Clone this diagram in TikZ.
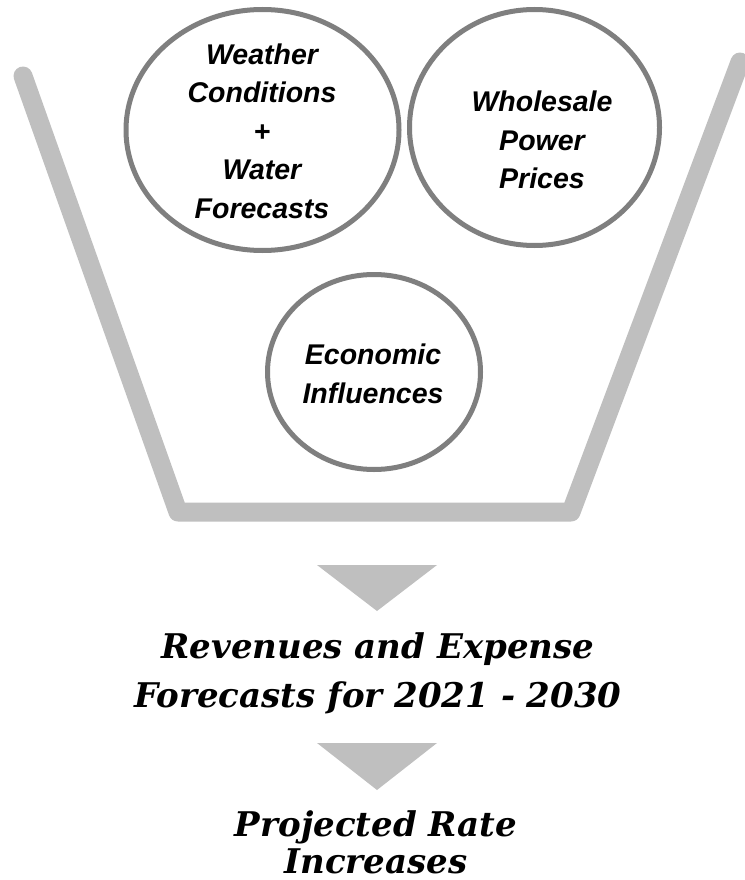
\documentclass[tikz,border=0pt]{standalone}
\usepackage{fontspec}
\usetikzlibrary{shapes.geometric}
\newfontfamily\bubblefont{Liberation Sans}
\newfontfamily\headfont{DejaVu Serif}
\definecolor{funnelgray}{HTML}{BFBFBF}
\definecolor{ringgray}{HTML}{7F7F7F}
\begin{document}
\begin{tikzpicture}[x=1pt,y=-1pt,
  ring/.style={ellipse, draw=ringgray, line width=5pt, fill=white, inner sep=0pt},
  ringtext/.style={font=\bubblefont\bfseries\itshape\fontsize{28.5}{38.5}\selectfont,
    align=center, inner sep=0pt},
  headtext/.style={font=\headfont\bfseries\itshape\fontsize{34}{49}\selectfont,
    align=center, inner sep=0pt, anchor=base},
  pointer/.style={fill=funnelgray}]
\useasboundingbox (0,0) rectangle (744,880);

% funnel outline
\draw[funnelgray, line width=19pt, line cap=round, line join=round]
  (23,76) -- (178,512) -- (571,512) -- (740,62);

% input bubbles
\node[ring, minimum width=273pt, minimum height=241pt] (weather) at (262.5,130) {};
\node[ring, minimum width=250pt, minimum height=236pt] (prices) at (534.5,127.5) {};
\node[ring, minimum width=213pt, minimum height=195pt] (economy) at (374,372) {};

\node[ringtext] (weathertext) at (262,131) {Weather\\Conditions\\+\\Water\\Forecasts};
\node[ringtext] (pricestext) at (542,140) {Wholesale\\Power\\Prices};
\node[ringtext] (economytext) at (373,374) {Economic\\Influences};

% downward pointers
\fill[pointer] (317,565) -- (437,565) -- (377,611) -- cycle;
\fill[pointer] (317,743) -- (437,743) -- (377,790) -- cycle;

% results (anchored on the baseline of the last line)
\node[headtext] (forecast) at (378,707) {Revenues and Expense\\Forecasts for 2021 - 2030};
\node[headtext, font=\headfont\bfseries\itshape\fontsize{34}{37}\selectfont]
  (rates) at (376,873) {Projected Rate\\Increases};
\end{tikzpicture}
\end{document}
